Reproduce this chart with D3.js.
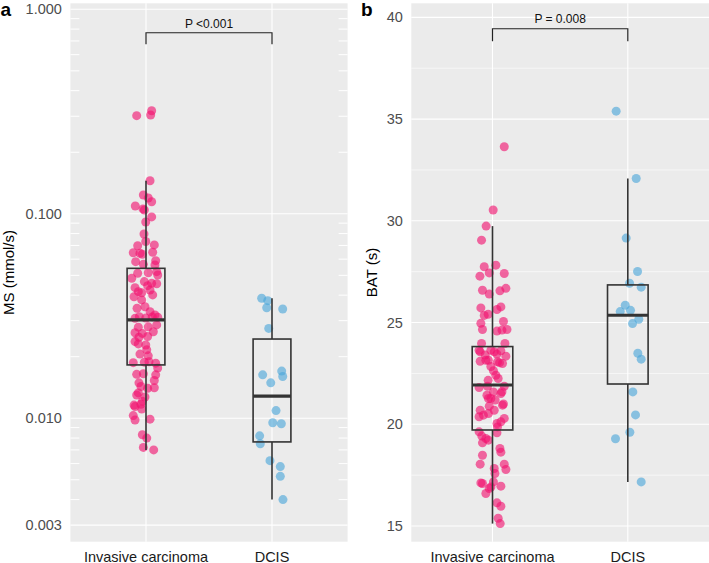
<!DOCTYPE html>
<html>
<head>
<meta charset="utf-8">
<script src="https://cdn.jsdelivr.net/npm/d3@7"></script>
<style>
  html, body { margin: 0; padding: 0; background: #ffffff; }
  svg { display: block; font-family: "Liberation Sans", Arial, Helvetica, sans-serif; }
</style>
</head>
<body>
<svg id="chart" width="709" height="563"></svg>
<script>
// ---------------- DATA ----------------
const groups = ["Invasive carcinoma", "DCIS"];
const panelLetters = ["a", "b"];
const yTitles = ["MS (mmol/s)", "BAT (s)"];
const pLabels = ["P <0.001", "P = 0.008"];

// Panel a: MS (mmol/s), log scale
const msTicks = [0.003, 0.01, 0.1, 1];
const msInvasive = [0.302,0.319,0.304,0.145,0.1236,0.1195,0.1145,0.1092,0.1056,0.1044,
  0.0965,0.0912,0.0796,0.0732,0.0698,0.0704,0.0645,0.0641,0.0634,0.0648,
  0.0590,0.0583,0.0566,0.0562,0.0521,0.0512,0.0515,0.0502,0.0484,0.0466,
  0.0457,0.0455,0.0435,0.0445,0.0424,0.0416,0.0411,0.0393,0.0401,0.0379,
  0.0345,0.0351,0.0332,0.0320,0.0314,0.0308,0.0309,0.0313,0.0312,0.0279,
  0.0280,0.0286,0.0262,0.0260,0.0265,0.0249,0.0251,0.0237,0.0228,0.0231,
  0.0216,0.0206,0.0202,0.0187,0.0188,0.0189,0.0186,0.0176,0.0164,0.0165,
  0.0163,0.0153,0.0149,0.0143,0.0140,0.0141,0.0133,0.0130,0.0127,0.0121,
  0.0116,0.0114,0.0117,0.0111,0.0103,0.0098,0.0099,0.0083,0.0080,0.0072,0.0070];
const msInvasiveJitter = [-0.074,0.045,0.037,0.032,-0.021,0.018,0.045,-0.085,-0.024,-0.013,
  0.045,-0.002,-0.016,-0.002,-0.066,0.066,-0.101,-0.048,-0.029,0.053,
  0.077,-0.082,-0.021,0.071,0.085,-0.066,0.018,0.093,-0.113,-0.013,
  0.045,0.085,-0.087,0.013,0.032,-0.061,-0.034,-0.095,0.053,-0.034,
  -0.071,-0.008,0.032,0.071,-0.053,-0.087,-0.002,0.050,0.093,-0.061,
  0.018,0.085,-0.087,-0.029,0.058,-0.056,0.013,-0.087,-0.002,-0.061,
  0.006,-0.048,0.018,-0.101,-0.013,0.024,0.077,0.093,-0.074,-0.021,
  0.077,0.066,-0.056,-0.040,0.013,0.066,-0.061,-0.074,-0.008,-0.029,
  -0.095,-0.087,-0.040,-0.034,-0.101,-0.087,0.032,-0.029,0.006,-0.021,0.061];
const msDCIS = [0.0386,0.0376,0.0347,0.0342,0.0275,0.0163,0.0170,0.0160,0.0149,0.0109,
  0.0095,0.0094,0.0082,0.0075,0.0062,0.0058,0.0052,0.0040];
const msDCISJitter = [-0.082,-0.034,-0.042,0.085,-0.026,-0.074,0.077,0.085,-0.010,0.032,
  0.006,0.074,-0.098,-0.093,-0.016,0.066,0.066,0.087];
// box stats [Invasive, DCIS]
const msLower = [0.0070, 0.0040];
const msQ1 = [0.01823, 0.00766];
const msMedian = [0.0303, 0.01282];
const msQ3 = [0.0541, 0.0244];
const msUpper = [0.145, 0.0386];
const msBracket = [0.674, 0.768];

// Panel b: BAT (s), linear
const batTicks = [15, 20, 25, 30, 35, 40];
const batMinorTicks = [17.5, 22.5, 27.5, 32.5, 37.5];
const batInvasive = [33.64,30.53,29.74,29.05,27.74,27.82,27.44,27.41,27.28,26.59,
  26.40,26.56,26.68,25.72,25.77,25.64,25.35,25.41,24.96,25.05,
  24.66,24.58,24.66,24.63,23.97,23.97,23.64,23.64,23.56,23.61,
  23.35,23.10,23.15,23.07,22.99,22.63,22.41,22.25,21.81,21.87,
  21.87,21.43,21.51,21.27,20.69,20.89,20.94,20.69,20.29,20.37,
  20.12,19.87,19.63,19.30,19.09,19.58,18.81,18.63,18.48,18.04,
  18.04,17.78,17.83,17.58,17.12,17.09,16.92,16.84,16.96,16.60,
  16.14,15.97,15.38,15.12,
  23.56,23.40,23.45,23.15,23.03,21.59,21.60,21.27,21.19,21.00,
  20.45,20.53,20.04,19.42,19.22,17.17,22.84,22.16];
const batInvasiveJitter = [0.087,0.005,-0.047,-0.081,-0.061,0.025,-0.024,0.087,-0.093,-0.074,
  -0.024,0.055,0.099,-0.086,0.062,0.033,-0.061,-0.032,-0.086,0.081,
  -0.074,0.033,0.107,0.070,-0.081,0.092,-0.099,-0.012,0.013,0.062,
  0.099,-0.091,-0.049,0.037,0.074,0.007,0.025,0.042,-0.099,-0.037,
  0.087,-0.041,0.062,-0.012,-0.091,-0.024,0.074,0.013,0.087,-0.099,
  0.062,0.037,-0.099,-0.049,-0.074,0.033,0.055,0.062,-0.074,-0.091,
  0.087,0.099,0.013,0.018,-0.086,-0.074,-0.012,-0.024,0.062,-0.049,
  0.033,0.062,0.042,0.057,
  -0.091,-0.054,0.033,-0.030,0.052,0.007,0.070,-0.030,0.020,0.081,
  -0.067,-0.030,0.033,-0.079,-0.030,0.007,-0.012,-0.032];
const batDCIS = [35.39,32.08,29.15,27.51,26.93,26.74,25.85,25.54,25.60,25.16,
  24.95,23.49,23.20,21.59,20.46,19.61,19.29,17.17];
const batDCISJitter = [-0.086,0.062,-0.012,0.072,0.013,0.099,-0.019,-0.056,0.020,0.081,
  0.035,0.074,0.099,0.037,0.057,0.015,-0.091,0.099];
const batLower = [15.12, 17.17];
const batQ1 = [19.72, 21.98];
const batMedian = [21.93, 25.36];
const batQ3 = [23.82, 26.85];
const batUpper = [29.74, 32.08];
const batBracket = [38.83, 39.44];

// ---------------- STYLE ----------------
const colors = ["#F2126F", "#4AA6DA"];
const pointOpacity = 0.62;
const panelBg = "#EBEBEB";
const tickTextColor = "#4D4D4D";
const boxColor = "#333333";

const svg = d3.select("#chart");

const panelTop = 3.3, panelBottom = 541.7;

function drawPanel(cfg) {
  const g = svg.append("g");
  const x = d3.scalePoint().domain(groups).range([cfg.left, cfg.right]).padding(0.6);
  const step = x.step();
  const y = cfg.y;

  g.append("rect").attr("x", cfg.left).attr("y", panelTop)
    .attr("width", cfg.right - cfg.left).attr("height", panelBottom - panelTop)
    .attr("fill", panelBg);

  // minor grid (full width)
  g.selectAll(".minor").data(cfg.minorFull || []).enter().append("line")
    .attr("x1", cfg.left).attr("x2", cfg.right)
    .attr("y1", d => y(d)).attr("y2", d => y(d))
    .attr("stroke", "#fff").attr("stroke-width", 0.6);

  // log ticks (short, both sides)
  (cfg.logTicks || []).forEach(d => {
    [[cfg.left, cfg.left + 9], [cfg.right - 9, cfg.right]].forEach(([a, b]) => {
      g.append("line").attr("x1", a).attr("x2", b)
        .attr("y1", y(d)).attr("y2", y(d))
        .attr("stroke", "#fff").attr("stroke-width", 1);
    });
  });

  // major grid
  g.selectAll(".major").data(cfg.ticks).enter().append("line")
    .attr("x1", cfg.left).attr("x2", cfg.right)
    .attr("y1", d => y(d)).attr("y2", d => y(d))
    .attr("stroke", "#fff").attr("stroke-width", 1.1);
  g.selectAll(".vmajor").data(groups).enter().append("line")
    .attr("x1", d => x(d)).attr("x2", d => x(d))
    .attr("y1", panelTop).attr("y2", panelBottom)
    .attr("stroke", "#fff").attr("stroke-width", 1.1);

  // points
  cfg.series.forEach((s, gi) => {
    g.selectAll(null).data(s.values.map((v, i) => ({ v, j: s.jitter[i] }))).enter()
      .append("circle")
      .attr("cx", d => x(groups[gi]) + d.j * step)
      .attr("cy", d => y(d.v))
      .attr("r", 4.5)
      .attr("fill", colors[gi])
      .attr("fill-opacity", pointOpacity);
  });

  // boxplots
  groups.forEach((grp, gi) => {
    const cx = x(grp), hw = 0.15 * step;
    const b = cfg.box;
    g.append("line").attr("x1", cx).attr("x2", cx)
      .attr("y1", y(b.upper[gi])).attr("y2", y(b.q3[gi]))
      .attr("stroke", boxColor).attr("stroke-width", 1.6);
    g.append("line").attr("x1", cx).attr("x2", cx)
      .attr("y1", y(b.q1[gi])).attr("y2", y(b.lower[gi]))
      .attr("stroke", boxColor).attr("stroke-width", 1.6);
    g.append("rect").attr("x", cx - hw).attr("width", 2 * hw)
      .attr("y", y(b.q3[gi])).attr("height", y(b.q1[gi]) - y(b.q3[gi]))
      .attr("fill", "none").attr("stroke", boxColor).attr("stroke-width", 1.6);
    g.append("line").attr("x1", cx - hw).attr("x2", cx + hw)
      .attr("y1", y(b.median[gi])).attr("y2", y(b.median[gi]))
      .attr("stroke", boxColor).attr("stroke-width", 3.2);
  });

  // significance bracket
  const x1 = x(groups[0]), x2 = x(groups[1]);
  const yLo = y(cfg.bracket[0]), yHi = y(cfg.bracket[1]);
  g.append("path")
    .attr("d", `M${x1},${yLo}L${x1},${yHi}L${x2},${yHi}L${x2},${yLo}`)
    .attr("fill", "none").attr("stroke", "#222").attr("stroke-width", 1.2);
  g.append("text").attr("x", (x1 + x2) / 2).attr("y", yHi - cfg.pGap)
    .attr("text-anchor", "middle").attr("font-size", 12).attr("fill", "#111")
    .text(cfg.pLabel);

  // y tick labels
  g.selectAll(".ytl").data(cfg.ticks).enter().append("text")
    .attr("x", cfg.left - 8.5).attr("y", d => y(d)).attr("dy", "0.35em")
    .attr("text-anchor", "end").attr("font-size", 14.5).attr("fill", tickTextColor)
    .text(cfg.fmt);

  // x tick labels
  g.selectAll(".xtl").data(groups).enter().append("text")
    .attr("x", d => x(d)).attr("y", 561.5)
    .attr("text-anchor", "middle").attr("font-size", 14.5).attr("fill", "#1a1a1a")
    .text(d => d);

  // y title
  g.append("text")
    .attr("transform", `translate(${cfg.titleX},${(panelTop + panelBottom) / 2}) rotate(-90)`)
    .attr("text-anchor", "middle").attr("font-size", 15).attr("fill", "#000")
    .text(cfg.title);

  // panel letter
  g.append("text").attr("x", cfg.letterX).attr("y", 16)
    .attr("font-size", 19).attr("font-weight", "bold").attr("fill", "#000")
    .text(cfg.letter);
}

// logticks for panel a: 2..9 of each decade within domain
const yA = d3.scaleLog().domain([0.00249, 1.07]).range([panelBottom, panelTop]);
const msLogTicks = [];
[0.001, 0.01, 0.1].forEach(dec => {
  for (let k = 2; k <= 9; k++) {
    const v = +(dec * k).toPrecision(3);
    if (v >= 0.00249 && v <= 1.07 && !msTicks.includes(v)) msLogTicks.push(v);
  }
});

drawPanel({
  left: 70.4, right: 347.6, y: yA,
  ticks: msTicks, logTicks: msLogTicks, minorFull: [],
  fmt: d3.format(".3f"),
  series: [{ values: msInvasive, jitter: msInvasiveJitter }, { values: msDCIS, jitter: msDCISJitter }],
  box: { lower: msLower, q1: msQ1, median: msMedian, q3: msQ3, upper: msUpper },
  bracket: msBracket, pLabel: pLabels[0], pGap: 4.5,
  title: yTitles[0], titleX: 14, letter: panelLetters[0], letterX: 0.5
});

const yB = d3.scaleLinear().domain([14.23, 40.69]).range([panelBottom, panelTop]);
drawPanel({
  left: 411.3, right: 709, y: yB,
  ticks: batTicks, logTicks: [], minorFull: batMinorTicks,
  fmt: d => String(d),
  series: [{ values: batInvasive, jitter: batInvasiveJitter }, { values: batDCIS, jitter: batDCISJitter }],
  box: { lower: batLower, q1: batQ1, median: batMedian, q3: batQ3, upper: batUpper },
  bracket: batBracket, pLabel: pLabels[1], pGap: 5.3,
  title: yTitles[1], titleX: 377, letter: panelLetters[1], letterX: 361
});
</script>
</body>
</html>
